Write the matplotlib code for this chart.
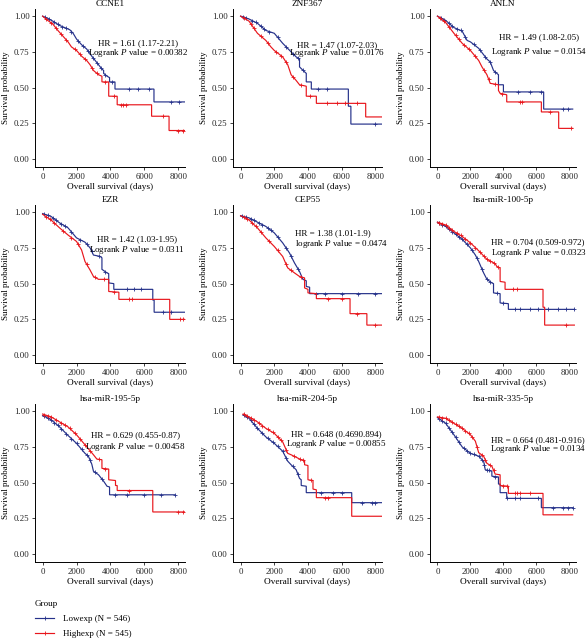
import matplotlib
matplotlib.use('Agg')
import matplotlib.pyplot as plt, numpy as np
from matplotlib.lines import Line2D

matplotlib.rcParams['font.family'] = ['Liberation Serif', 'DejaVu Serif']
matplotlib.rcParams['mathtext.fontset'] = 'custom'
matplotlib.rcParams['mathtext.rm'] = 'Liberation Serif'
matplotlib.rcParams['mathtext.it'] = 'Liberation Serif:italic'

LOW_COLOR = '#25318a'
HIGH_COLOR = '#e8161c'

# ---- data: (days, survival) path, censor days ----
ccne1_low = [(0, 1.0), (300, 0.985), (600, 0.965), (1000, 0.935), (1300, 0.92), (1600, 0.905), (1800, 0.88),
             (2000, 0.84), (2300, 0.80), (2600, 0.77), (2900, 0.72), (3100, 0.69), (3300, 0.66), (3500, 0.63),
             (3600, 0.62), (3600, 0.60), (3800, 0.58), (3950, 0.57), (3950, 0.54), (4270, 0.54), (4270, 0.49),
             (6570, 0.49), (6570, 0.40), (8400, 0.40)]
ccne1_low_cens = [150, 400, 700, 900, 1150, 1400, 1700, 2100, 2400, 2700, 3000, 3200, 3450, 3700, 4100,
                  5100, 5650, 6250, 7550, 8050]
ccne1_high = [(0, 1.0), (300, 0.97), (600, 0.945), (900, 0.90), (1200, 0.86), (1500, 0.82), (1700, 0.785),
              (2000, 0.76), (2300, 0.72), (2600, 0.69), (2800, 0.66), (3000, 0.62), (3300, 0.59), (3500, 0.58),
              (3500, 0.54), (3900, 0.54), (3900, 0.44), (4400, 0.44), (4400, 0.38), (6430, 0.38), (6430, 0.30),
              (7460, 0.30), (7460, 0.20), (8400, 0.20)]
ccne1_high_cens = [200, 500, 800, 1100, 1400, 1900, 2200, 2500, 2900, 3200, 3700, 4200, 4600, 4750, 4900,
                   7100, 8000, 8300]

znf367_low = [(0, 1.0), (500, 0.98), (1000, 0.95), (1500, 0.90), (2000, 0.88), (2500, 0.81), (3000, 0.75),
              (3300, 0.715), (3500, 0.70), (3500, 0.645), (3800, 0.61), (3900, 0.60), (3900, 0.54), (4200, 0.54),
              (4200, 0.49), (6400, 0.49), (6400, 0.37), (6550, 0.37), (6550, 0.245), (8400, 0.245)]
znf367_low_cens = [150, 350, 700, 900, 1200, 1400, 1700, 2200, 2700, 3100, 3400, 3700, 4600, 5150, 8000]
znf367_high = [(0, 1.0), (500, 0.965), (1000, 0.88), (1500, 0.83), (1800, 0.785), (2000, 0.76), (2500, 0.715),
               (2800, 0.66), (3000, 0.59), (3300, 0.55), (3500, 0.52), (3900, 0.51), (3900, 0.44), (4500, 0.44),
               (4500, 0.39), (7430, 0.39), (7430, 0.295), (8400, 0.295)]
znf367_high_cens = [200, 600, 800, 1200, 1600, 2100, 2400, 2700, 3100, 3600, 4100, 5150, 5700, 6200, 6900]

anln_low = [(0, 1.0), (500, 0.97), (1000, 0.92), (1500, 0.895), (1800, 0.83), (2000, 0.82), (2500, 0.775),
            (3000, 0.70), (3200, 0.68), (3400, 0.62), (3700, 0.59), (3700, 0.52), (4000, 0.52), (4000, 0.47),
            (6440, 0.47), (6440, 0.35), (8200, 0.35)]
anln_low_cens = [200, 400, 700, 900, 1200, 1400, 1700, 2200, 2600, 2900, 3200, 3500, 4900, 5600, 6300, 7600, 7900]
anln_high = [(0, 1.0), (500, 0.955), (1000, 0.88), (1500, 0.81), (2000, 0.76), (2500, 0.69), (2700, 0.645),
             (3000, 0.59), (3200, 0.53), (3700, 0.52), (3700, 0.48), (3800, 0.46), (4200, 0.45), (4200, 0.40),
             (6300, 0.40), (6300, 0.33), (7350, 0.33), (7350, 0.215), (8200, 0.215)]
anln_high_cens = [150, 400, 700, 1100, 1300, 1600, 1900, 2300, 2800, 3100, 3500, 3900, 5000, 5100, 6800, 8100]

ezr_low = [(0, 0.99), (500, 0.97), (1000, 0.925), (1500, 0.89), (2000, 0.82), (2500, 0.79), (2800, 0.75),
           (3000, 0.70), (3400, 0.69), (3500, 0.68), (3500, 0.60), (3800, 0.575), (3900, 0.57), (3900, 0.505),
           (4200, 0.50), (4200, 0.46), (6500, 0.46), (6500, 0.385), (6580, 0.385), (6580, 0.30), (8400, 0.30)]
ezr_low_cens = [100, 300, 600, 800, 1100, 1300, 1700, 2200, 2600, 2900, 3300, 3700, 5000, 5400, 5800, 7100, 7600]
ezr_high = [(0, 0.985), (500, 0.945), (1000, 0.89), (1500, 0.84), (2000, 0.795), (2300, 0.735), (2500, 0.655),
            (2800, 0.595), (3000, 0.55), (3300, 0.53), (3900, 0.53), (3900, 0.445), (4500, 0.44), (4500, 0.39),
            (7500, 0.39), (7500, 0.25), (8400, 0.25)]
ezr_high_cens = [200, 450, 700, 1200, 1700, 2100, 2600, 3100, 3600, 4200, 5100, 5300, 8100, 8300]

cep55_low = [(0, 0.975), (500, 0.96), (1000, 0.93), (1500, 0.90), (2000, 0.855), (2500, 0.785), (2900, 0.715),
             (3200, 0.645), (3500, 0.585), (3700, 0.53), (3900, 0.52), (3900, 0.48), (4100, 0.475), (4100, 0.43),
             (8400, 0.43)]
cep55_low_cens = [100, 300, 600, 800, 1100, 1300, 1600, 1800, 2200, 2700, 3000, 3400, 4500, 5000, 6000, 7000, 8000]
cep55_high = [(0, 0.975), (500, 0.945), (1000, 0.89), (1500, 0.82), (2000, 0.76), (2500, 0.69), (2800, 0.61),
              (3200, 0.575), (3500, 0.55), (3800, 0.54), (3800, 0.47), (4000, 0.46), (4000, 0.435), (4500, 0.43),
              (4500, 0.395), (6500, 0.395), (6500, 0.29), (7500, 0.29), (7500, 0.21), (8400, 0.21)]
cep55_high_cens = [200, 400, 700, 900, 1200, 1700, 2200, 2700, 3000, 3600, 5200, 6000, 6900, 8000]

mir100_low = [(0, 0.93), (500, 0.90), (1000, 0.855), (1500, 0.81), (2000, 0.75), (2300, 0.70), (2500, 0.655),
              (2800, 0.575), (3000, 0.53), (3300, 0.505), (3400, 0.50), (3400, 0.435), (3800, 0.43), (3800, 0.365),
              (4300, 0.36), (4300, 0.32), (8300, 0.32)]
mir100_low_cens = [100, 300, 500, 700, 900, 1100, 1300, 1500, 1800, 2100, 2400, 2700, 3000, 3200, 3600, 4000,
                   4700, 5000, 5600, 6100, 6700, 7300, 7800, 8300]
mir100_high = [(0, 0.93), (500, 0.91), (1000, 0.865), (1500, 0.83), (2000, 0.785), (2500, 0.73), (3000, 0.67),
               (3500, 0.64), (3600, 0.62), (3800, 0.61), (3800, 0.515), (4100, 0.51), (4100, 0.46), (6400, 0.46),
               (6400, 0.335), (6500, 0.335), (6500, 0.21), (8300, 0.21)]
mir100_high_cens = [100, 300, 500, 700, 900, 1200, 1400, 1700, 2000, 2300, 2600, 2800, 3000, 3200, 3400, 3700,
                    4600, 4800, 7800]

mir195_low = [(0, 0.97), (500, 0.94), (1000, 0.89), (1500, 0.83), (2000, 0.775), (2500, 0.705), (2700, 0.685),
              (2900, 0.63), (3000, 0.58), (3300, 0.555), (3600, 0.51), (3800, 0.475), (3950, 0.47), (3950, 0.415),
              (7800, 0.415)]
mir195_low_cens = [100, 300, 500, 700, 900, 1100, 1400, 1700, 2000, 2300, 2600, 2800, 3100, 3500, 4300, 5000,
                   6000, 7000, 7800]
mir195_high = [(0, 0.98), (500, 0.96), (1000, 0.925), (1500, 0.89), (2000, 0.835), (2500, 0.765), (3000, 0.695),
               (3200, 0.665), (3500, 0.66), (3500, 0.60), (3900, 0.595), (3900, 0.52), (4300, 0.515), (4300, 0.48),
               (4400, 0.48), (4400, 0.445), (6500, 0.445), (6500, 0.295), (8400, 0.295)]
mir195_high_cens = [100, 300, 500, 800, 1100, 1300, 1600, 1900, 2200, 2500, 2800, 3300, 3700, 5100, 8000, 8300]

mir204_low = [(150, 0.975), (500, 0.95), (1000, 0.88), (1500, 0.82), (2000, 0.775), (2500, 0.72), (2800, 0.65),
              (3000, 0.625), (3300, 0.59), (3500, 0.53), (3600, 0.52), (3600, 0.48), (3900, 0.475), (3900, 0.43),
              (6600, 0.43), (6600, 0.36), (8400, 0.36)]
mir204_low_cens = [200, 400, 600, 800, 1000, 1300, 1600, 1900, 2200, 2500, 2700, 3100, 3400, 4800, 5500, 6000,
                   7200, 7800, 8000]
mir204_high = [(150, 0.98), (500, 0.96), (1000, 0.925), (1500, 0.88), (2000, 0.845), (2500, 0.785), (2800, 0.705),
               (3000, 0.695), (3600, 0.66), (3800, 0.655), (3800, 0.625), (4000, 0.62), (4000, 0.52), (4300, 0.515),
               (4300, 0.455), (4500, 0.45), (4500, 0.395), (6600, 0.395), (6600, 0.265), (8400, 0.265)]
mir204_high_cens = [200, 400, 600, 800, 1100, 1300, 1600, 1900, 2200, 2400, 2700, 3200, 3500, 3700, 4200, 5000, 5200]

mir335_low = [(0, 0.955), (500, 0.915), (1000, 0.835), (1500, 0.75), (2000, 0.705), (2500, 0.685), (2800, 0.65),
              (2900, 0.59), (3300, 0.58), (3300, 0.545), (3700, 0.54), (3700, 0.49), (3800, 0.49), (3800, 0.43),
              (4200, 0.43), (4200, 0.39), (6300, 0.39), (6300, 0.325), (8200, 0.325)]
mir335_low_cens = [100, 300, 500, 700, 900, 1100, 1300, 1600, 1800, 2000, 2200, 2500, 2700, 2850, 3000, 3100,
                   3500, 4200, 4700, 5000, 6100, 7000, 7600, 7900, 8200]
mir335_high = [(0, 0.96), (500, 0.95), (1000, 0.915), (1500, 0.88), (2000, 0.835), (2300, 0.79), (2500, 0.71),
               (2800, 0.685), (3000, 0.635), (3300, 0.615), (3500, 0.56), (3800, 0.555), (3800, 0.48), (4300, 0.475),
               (4300, 0.425), (6400, 0.425), (6400, 0.275), (8200, 0.275)]
mir335_high_cens = [100, 300, 500, 700, 900, 1100, 1300, 1500, 1700, 1900, 2100, 2400, 2700, 2900, 3200, 3400,
                    4000, 4200, 4700, 4800, 5000, 5600]

titles = ['CCNE1', 'ZNF367', 'ANLN', 'EZR', 'CEP55', 'hsa-miR-100-5p',
          'hsa-miR-195-5p', 'hsa-miR-204-5p', 'hsa-miR-335-5p']
hr_texts = ['HR = 1.61 (1.17-2.21)', 'HR = 1.47 (1.07-2.03)', 'HR = 1.49 (1.08-2.05)',
            'HR = 1.42 (1.03-1.95)', 'HR = 1.38 (1.01-1.9)', 'HR = 0.704 (0.509-0.972)',
            'HR = 0.629 (0.455-0.87)', 'HR = 0.648 (0.4690.894)', 'HR = 0.664 (0.481-0.916)']
p_words = ['Logrank', 'Logrank', 'Logrank', 'Logrank', 'logrank', 'Logrank', 'Logrank', 'Logrank', 'Logrank']
p_values = ['0.00382', '0.0176', '0.0154', '0.0311', '0.0474', '0.0323', '0.00458', '0.00855', '0.0134']
low_curves = [ccne1_low, znf367_low, anln_low, ezr_low, cep55_low, mir100_low, mir195_low, mir204_low, mir335_low]
low_cens = [ccne1_low_cens, znf367_low_cens, anln_low_cens, ezr_low_cens, cep55_low_cens, mir100_low_cens,
            mir195_low_cens, mir204_low_cens, mir335_low_cens]
high_curves = [ccne1_high, znf367_high, anln_high, ezr_high, cep55_high, mir100_high, mir195_high, mir204_high,
               mir335_high]
high_cens = [ccne1_high_cens, znf367_high_cens, anln_high_cens, ezr_high_cens, cep55_high_cens, mir100_high_cens,
             mir195_high_cens, mir204_high_cens, mir335_high_cens]
group_labels = ['Lowexp (N = 546)', 'Highexp (N = 545)']

# ---- layout ----
fig = plt.figure(figsize=(5.88, 6.42), dpi=100)
col_left = [0.0595, 0.3963, 0.7313]
col_width = [0.2551, 0.2534, 0.2483]
row_bottom = [0.7399, 0.4346, 0.1246]
row_height = 0.2461
# annotation anchor (days, survival of first line), alignment
text_pos = [(5650, 0.81, 'center'), (5750, 0.80, 'center'), (6150, 0.85, 'center'),
            (5550, 0.81, 'center'), (3250, 0.853, 'left'), (3250, 0.79, 'left'),
            (5470, 0.833, 'center'), (5700, 0.837, 'center'), (6100, 0.80, 'center')]
line_gap = [0.07, 0.06, 0.10, 0.075, 0.077, 0.077, 0.083, 0.07, 0.063]


def draw_curve(ax, path, cens, color):
	t = np.array([p[0] for p in path], dtype=float)
	s = np.array([p[1] for p in path], dtype=float)
	ax.plot(t, s, color=color, lw=0.85, solid_joinstyle='miter')
	c = np.array(cens, dtype=float)
	ax.plot(c, np.interp(c, t, s), ls='none', marker='+', ms=3, mew=0.6, color=color)


for i in range(9):
	r, c = divmod(i, 3)
	ax = fig.add_axes([col_left[c], row_bottom[r], col_width[c], row_height])
	draw_curve(ax, low_curves[i], low_cens[i], LOW_COLOR)
	draw_curve(ax, high_curves[i], high_cens[i], HIGH_COLOR)
	ax.set_xlim(-450, 8400)
	ax.set_ylim(-0.055, 1.05)
	ax.set_xticks([0, 2000, 4000, 6000, 8000])
	ax.set_yticks([0, 0.25, 0.5, 0.75, 1.0])
	ax.set_yticklabels(['0.00', '0.25', '0.50', '0.75', '1.00'])
	for sp in ['top', 'right']:
		ax.spines[sp].set_visible(False)
	for sp in ['left', 'bottom']:
		ax.spines[sp].set_linewidth(0.7)
	ax.tick_params(labelsize=6.3, length=2.5, width=0.6, pad=1.5, colors='#222222')
	ax.set_title(titles[i], fontsize=6.7, pad=2)
	ax.set_xlabel('Overall survival (days)', fontsize=6.7, labelpad=2)
	ax.set_ylabel('Survival probability', fontsize=6.5, labelpad=2.5)
	x0, y0, ha = text_pos[i]
	ax.text(x0, y0, hr_texts[i], fontsize=6.5, ha=ha, va='center')
	ax.text(x0, y0 - line_gap[i], p_words[i] + r' $\it{P}$ value = ' + p_values[i],
	        fontsize=6.5, ha=ha, va='center')

handles = [Line2D([], [], color=LOW_COLOR, lw=0.85, marker='+', ms=3, mew=0.6),
           Line2D([], [], color=HIGH_COLOR, lw=0.85, marker='+', ms=3, mew=0.6)]
leg = fig.legend(handles, group_labels, title='Group', loc='upper left', bbox_to_anchor=(0.045, 0.078),
                 frameon=False, fontsize=6.5, title_fontsize=6.5, alignment='left', handlelength=2.2,
                 handletextpad=1.0, labelspacing=0.75)

fig.savefig('out.png', dpi=100)
